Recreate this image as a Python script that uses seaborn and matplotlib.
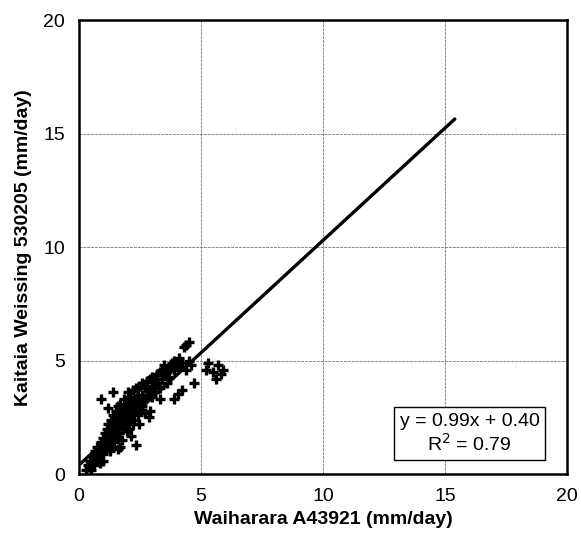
import numpy as np
import pandas as pd
import seaborn as sns
import matplotlib.pyplot as plt

# daily values (mm/day)
waiharara = [
    0.3, 0.35, 0.4, 0.45, 0.5, 0.5, 0.55, 0.6, 0.6, 0.65, 0.7, 0.7, 0.75, 0.8, 0.8,
    0.85, 0.9, 0.9, 0.95, 1.0, 1.0, 1.0, 1.05, 1.1, 1.1, 1.15, 1.2, 1.2, 1.2, 1.25,
    1.3, 1.3, 1.3, 1.35, 1.4, 1.4, 1.4, 1.45, 1.5, 1.5, 1.5, 1.55, 1.6, 1.6, 1.6,
    1.65, 1.7, 1.7, 1.7, 1.75, 1.8, 1.8, 1.8, 1.85, 1.9, 1.9, 1.9, 1.95, 2.0, 2.0,
    2.0, 2.0, 2.05, 2.1, 2.1, 2.1, 2.15, 2.2, 2.2, 2.2, 2.2, 2.25, 2.3, 2.3, 2.35,
    2.35, 2.4, 2.4, 2.4, 2.45, 2.5, 2.5, 2.5, 2.6, 2.6, 2.6, 2.7, 2.7, 2.7, 2.8,
    2.8, 2.85, 2.9, 2.9, 3.0, 3.0, 3.0, 3.1, 3.1, 3.2, 3.2, 3.3, 3.3, 3.4, 3.4,
    3.5, 3.5, 3.6, 3.7, 3.7, 3.8, 3.9, 3.9, 4.0, 4.1, 4.1, 4.2, 4.3, 4.4, 4.4,
    4.5, 4.5, 4.6, 4.7, 4.2, 4.05, 3.9, 5.5, 5.7, 5.9, 5.6, 5.2, 5.3, 5.8, 0.9,
    1.4, 1.2, 1.7, 3.3, 2.9, 1.0, 1.6, 3.6,
]
kaitaia = [
    0.2, 0.4, 0.3, 0.6, 0.5, 0.2, 0.8, 0.4, 0.7, 1.0, 0.6, 0.9, 1.2, 0.8, 1.1,
    0.5, 1.4, 1.0, 1.2, 1.6, 0.9, 1.3, 1.8, 1.1, 1.5, 2.0, 1.3, 1.7, 2.2, 1.0,
    1.5, 1.9, 2.4, 1.2, 1.7, 2.1, 2.6, 1.4, 1.9, 2.3, 2.8, 1.6, 2.1, 2.5, 3.0,
    1.8, 2.2, 2.7, 3.1, 1.5, 2.0, 2.4, 2.9, 3.3, 2.2, 2.6, 3.0, 1.9, 2.3, 2.8,
    3.2, 3.6, 2.0, 2.5, 2.9, 3.4, 1.7, 2.2, 2.7, 3.1, 3.7, 2.4, 2.9, 3.3, 1.3,
    3.8, 2.6, 3.0, 3.5, 2.2, 2.8, 3.2, 3.9, 3.0, 3.5, 4.0, 2.7, 3.3, 3.8, 3.5,
    4.1, 2.5, 3.7, 4.2, 3.4, 3.9, 4.3, 3.6, 4.1, 4.0, 4.4, 3.8, 4.5, 4.2, 4.6,
    4.4, 4.8, 4.5, 4.7, 4.3, 4.9, 4.6, 5.0, 4.8, 4.7, 5.1, 4.9, 5.6, 5.7, 4.6,
    5.8, 5.0, 4.8, 4.0, 3.7, 3.55, 3.3, 4.5, 4.8, 4.6, 4.2, 4.6, 4.9, 4.4, 3.3,
    3.6, 2.9, 1.2, 3.3, 2.8, 0.6, 1.1, 4.0,
]

# trendline as printed on the chart
slope = 0.99
intercept = 0.40
r_squared = 0.79
line_x = [0, 15.4]

ticks = [0, 5, 10, 15, 20]

df = pd.DataFrame({"x": waiharara, "y": kaitaia})
trend = pd.DataFrame({"x": line_x})
trend["y"] = slope * trend["x"] + intercept

sns.set_style("white")
plt.rcParams["font.family"] = ["Liberation Sans", "DejaVu Sans"]
plt.rcParams["text.color"] = "black"
plt.rcParams["axes.labelcolor"] = "black"

fig = plt.figure(figsize=(5.81, 5.45), dpi=100)
ax = fig.add_axes([0.136, 0.130, 0.840, 0.833])

sns.scatterplot(data=df, x="x", y="y", ax=ax, marker="+", color="black",
                s=60, linewidth=2.4, zorder=3)
sns.lineplot(data=trend, x="x", y="y", ax=ax, color="black", linewidth=2.4, zorder=4)

ax.set_xlim(0, 20)
ax.set_ylim(0, 20)
ax.set_xticks(ticks)
ax.set_yticks(ticks)
ax.grid(True, color="#888888", linewidth=0.7, linestyle=(0, (3, 1)))
ax.set_axisbelow(True)
for side in ax.spines.values():
    side.set_color("black")
    side.set_linewidth(1.8)
ax.tick_params(axis="both", direction="out", length=4, width=1, color="black",
               labelcolor="black", labelsize=14, pad=6)

ax.set_xlabel("Waiharara A43921 (mm/day)", fontsize=14, fontweight="bold", labelpad=4)
ax.set_ylabel("Kaitaia Weissing 530205 (mm/day)", fontsize=14, fontweight="bold", labelpad=8)

ax.text(0.80, 0.089, f"y = {slope:.2f}x + {intercept:.2f}\nR$^2$ = {r_squared:.2f}",
        transform=ax.transAxes, ha="center", va="center", fontsize=14,
        linespacing=1.15,
        bbox=dict(boxstyle="square,pad=0.3", facecolor="white", edgecolor="black",
                  linewidth=1.0))

fig.savefig("out.png", dpi=100)
